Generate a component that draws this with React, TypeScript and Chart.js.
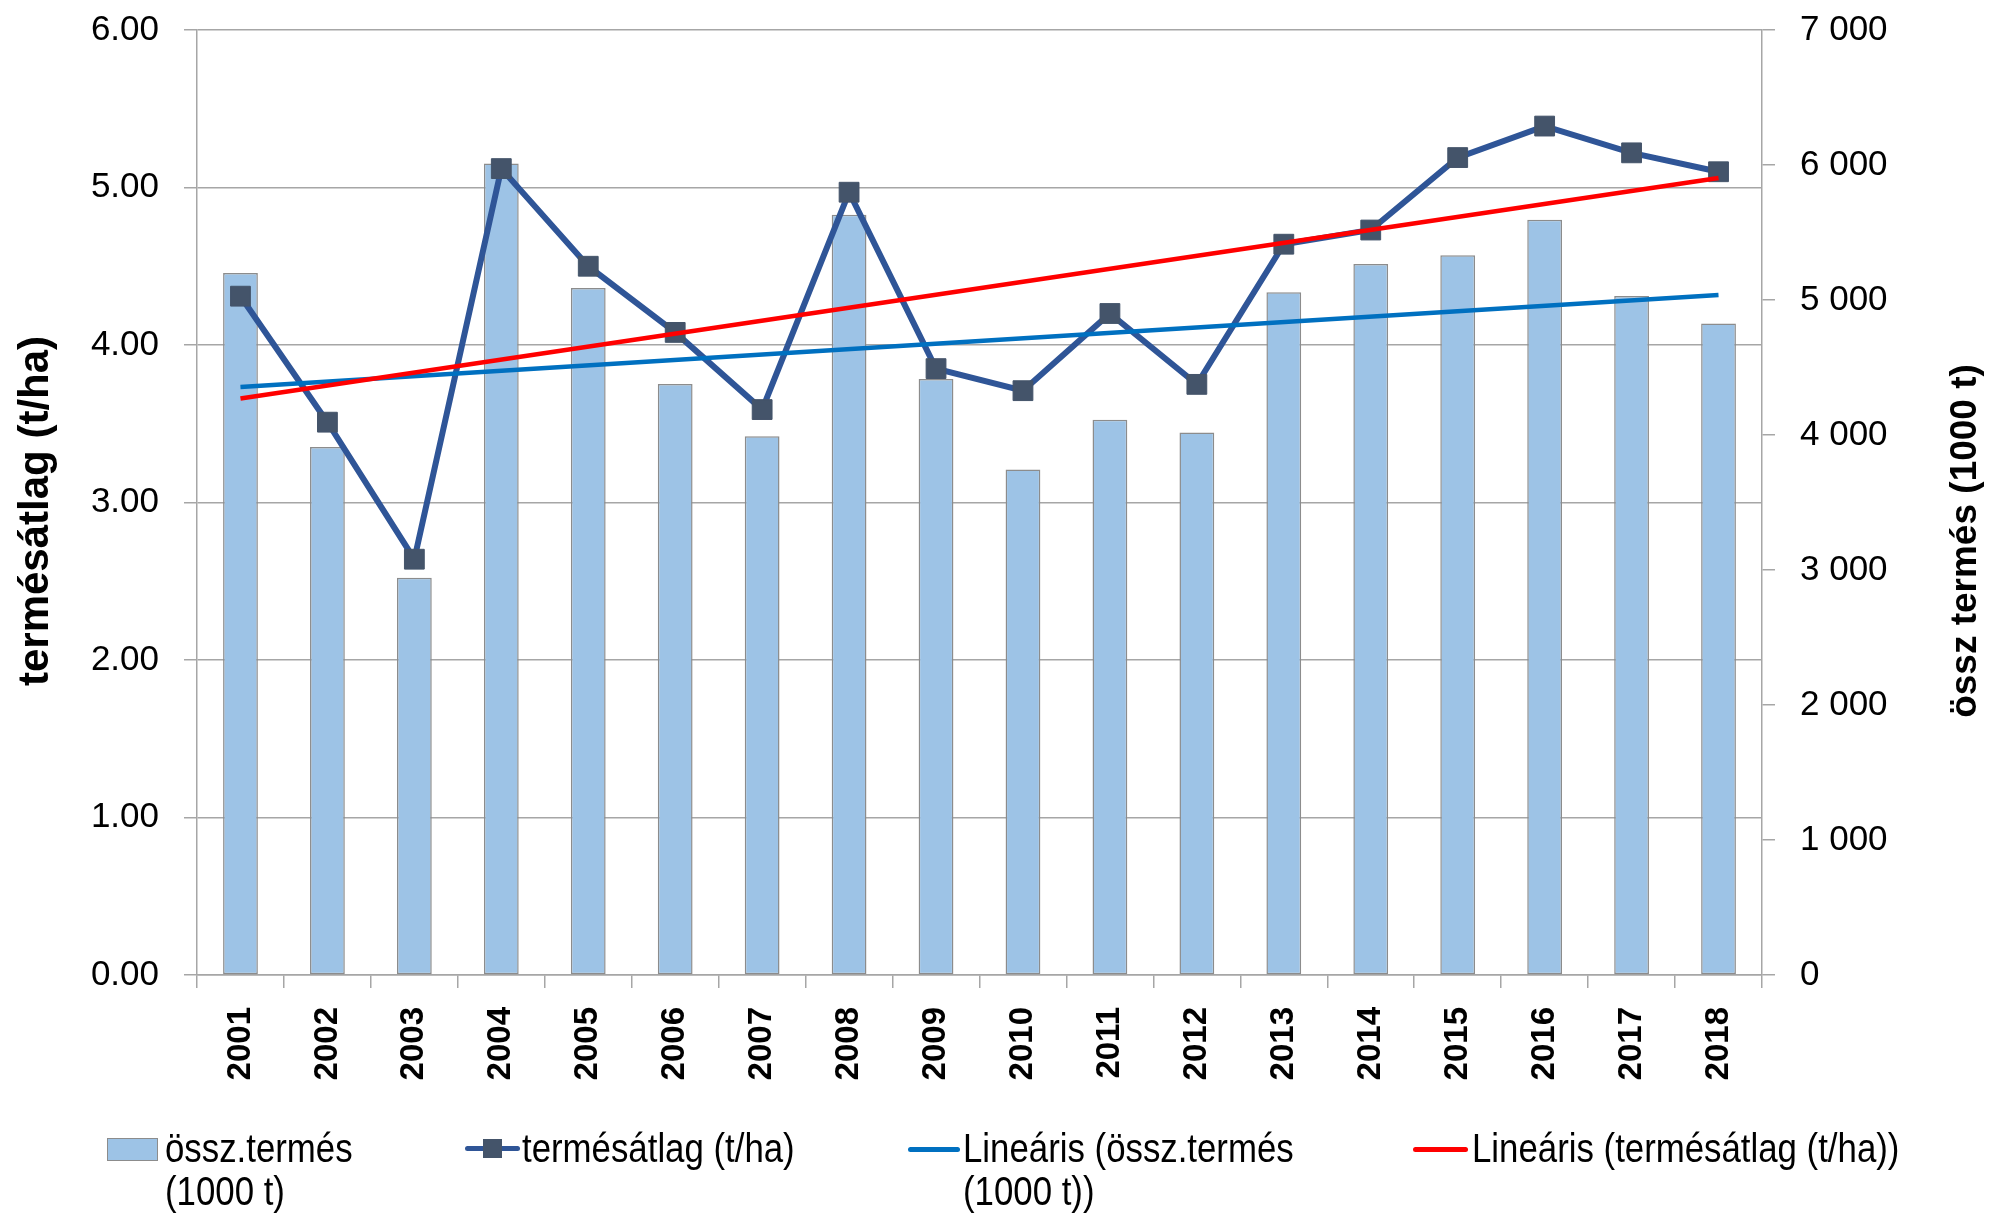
import React, { useEffect, useRef } from "react";
import { Chart, registerables } from "chart.js";

Chart.register(...registerables);

const years = ["2001","2002","2003","2004","2005","2006","2007","2008","2009","2010","2011","2012","2013","2014","2015","2016","2017","2018"];
const totalYield = [5200, 3912, 2943, 6012, 5088, 4378, 3990, 5632, 4415, 3745, 4113, 4019, 5057, 5266, 5332, 5594, 5030, 4826];
const avgYield = [4.31, 3.51, 2.64, 5.12, 4.50, 4.08, 3.59, 4.97, 3.85, 3.71, 4.20, 3.75, 4.64, 4.73, 5.19, 5.39, 5.22, 5.10];
const totalTrendEnds = [4355, 5037];
const avgTrendEnds = [3.66, 5.06];
const leftTicks = [0, 1, 2, 3, 4, 5, 6];
const rightTicks = [0, 1000, 2000, 3000, 4000, 5000, 6000, 7000];

const LABEL_BAR = ["össz.termés", "(1000 t)"];
const LABEL_LINE = ["termésátlag (t/ha)"];
const LABEL_TREND_TOTAL = ["Lineáris (össz.termés", "(1000 t))"];
const LABEL_TREND_AVG = ["Lineáris (termésátlag (t/ha))"];
const TITLE_LEFT = "termésátlag (t/ha)";
const TITLE_RIGHT = "össz termés (1000 t)";

const FONT = '"Liberation Sans", Arial, sans-serif';

const GRID = "#A6A6A6";
const BAR_FILL = "#9DC3E6";
const BAR_BORDER = "#8C8C8C";
const LINE_COLOR = "#2F5597";
const MARKER = "#44546A";
const TREND_BLUE = "#0070C0";
const TREND_RED = "#FF0000";

function trendSeries(ends: number[]) {
  const arr: (number | null)[] = years.map(() => null);
  arr[0] = ends[0];
  arr[years.length - 1] = ends[1];
  return arr;
}

function fmtThousands(v: number) {
  return String(Math.round(v)).replace(/\B(?=(\d{3})+(?!\d))/g, " ");
}

const titlePlugin = {
  id: "axisTitles",
  afterDraw(chart: any) {
    const ctx = chart.ctx;
    ctx.save();
    ctx.fillStyle = "#000";
    ctx.textAlign = "center";
    ctx.textBaseline = "middle";
    ctx.font = `bold 42px ${FONT}`;
    ctx.translate(36, 511);
    ctx.rotate(-Math.PI / 2);
    ctx.fillText(TITLE_LEFT, 0, 0);
    ctx.restore();
    ctx.save();
    ctx.fillStyle = "#000";
    ctx.textAlign = "center";
    ctx.textBaseline = "middle";
    ctx.font = `bold 37px ${FONT}`;
    ctx.translate(1966, 541);
    ctx.rotate(-Math.PI / 2);
    ctx.fillText(TITLE_RIGHT, 0, 0);
    ctx.restore();
  },
};

function LegendText({ lines, left }: { lines: string[]; left: number }) {
  return (
    <div
      style={{
        position: "absolute",
        left,
        top: 1127,
        font: `40px ${FONT}`,
        lineHeight: "43px",
        color: "#000",
        whiteSpace: "nowrap",
        transform: "scaleX(0.87)",
        transformOrigin: "0 0",
      }}
    >
      {lines.map((l, i) => (
        <div key={i}>{l}</div>
      ))}
    </div>
  );
}

function LineKey({ left, width, color, top }: { left: number; width: number; color: string; top: number }) {
  return (
    <div
      style={{
        position: "absolute",
        left,
        top,
        width,
        height: 5,
        borderRadius: 3,
        background: color,
      }}
    />
  );
}

function noLabelPadding(scale: any) {
  scale.paddingTop = 0;
  scale.paddingBottom = 0;
  scale.paddingLeft = 0;
  scale.paddingRight = 0;
}

export default function App() {
  const ref = useRef<HTMLCanvasElement | null>(null);

  useEffect(() => {
    if (!ref.current) return;
    const chart = new Chart(ref.current, {
      type: "bar",
      data: {
        labels: years,
        datasets: [
          {
            type: "line",
            label: LABEL_TREND_AVG.join(" "),
            data: trendSeries(avgTrendEnds),
            yAxisID: "y",
            borderColor: TREND_RED,
            borderWidth: 4.5,
            pointRadius: 0,
            spanGaps: true,
            order: 0,
          } as any,
          {
            type: "line",
            label: LABEL_TREND_TOTAL.join(" "),
            data: trendSeries(totalTrendEnds),
            yAxisID: "y2",
            borderColor: TREND_BLUE,
            borderWidth: 4.5,
            pointRadius: 0,
            spanGaps: true,
            order: 1,
          } as any,
          {
            type: "line",
            label: LABEL_LINE.join(" "),
            data: avgYield,
            yAxisID: "y",
            borderColor: LINE_COLOR,
            borderWidth: 6,
            pointStyle: "rect",
            pointRadius: 14,
            pointBackgroundColor: MARKER,
            pointBorderColor: MARKER,
            pointBorderWidth: 1,
            order: 2,
          } as any,
          {
            type: "bar",
            label: LABEL_BAR.join(" "),
            data: totalYield,
            yAxisID: "y2",
            backgroundColor: BAR_FILL,
            borderColor: BAR_BORDER,
            borderWidth: 1.5,
            borderSkipped: false,
            barPercentage: 0.4,
            categoryPercentage: 1,
            order: 3,
          } as any,
        ],
      },
      options: {
        responsive: false,
        animation: false,
        devicePixelRatio: 1,
        layout: { padding: { top: 30, left: 0, right: 0, bottom: 0 } },
        plugins: {
          legend: { display: false },
          tooltip: { enabled: false },
        },
        scales: {
          x: {
            type: "category",
            offset: true,
            grid: {
              offset: true,
              drawOnChartArea: false,
              drawTicks: true,
              tickLength: 13,
              color: GRID,
              lineWidth: 1.5,
            },
            border: { display: true, color: GRID, width: 1.5 },
            ticks: {
              autoSkip: false,
              minRotation: 90,
              maxRotation: 90,
              padding: 19,
              color: "#000",
              font: { family: FONT, size: 33, weight: "bold" },
            },
            afterFit(scale: any) {
              scale.height = 248;
              noLabelPadding(scale);
            },
          },
          y: {
            type: "linear",
            position: "left",
            min: leftTicks[0],
            max: leftTicks[leftTicks.length - 1],
            afterBuildTicks(scale: any) {
              scale.ticks = leftTicks.map((v) => ({ value: v }));
            },
            grid: {
              color: GRID,
              lineWidth: 1.5,
              drawTicks: true,
              tickLength: 13,
            },
            border: { display: true, color: GRID, width: 1.5 },
            ticks: {
              padding: 25,
              color: "#000",
              font: { family: FONT, size: 35 },
              callback: (v: any) => Number(v).toFixed(2),
            },
            afterFit(scale: any) {
              scale.width = 197;
              noLabelPadding(scale);
            },
          },
          y2: {
            type: "linear",
            position: "right",
            min: rightTicks[0],
            max: rightTicks[rightTicks.length - 1],
            afterBuildTicks(scale: any) {
              scale.ticks = rightTicks.map((v) => ({ value: v }));
            },
            grid: {
              drawOnChartArea: false,
              drawTicks: true,
              tickLength: 13,
              color: GRID,
              lineWidth: 1.5,
            },
            border: { display: true, color: GRID, width: 1.5 },
            ticks: {
              padding: 25,
              color: "#000",
              font: { family: FONT, size: 35 },
              callback: (v: any) => fmtThousands(Number(v)),
            },
            afterFit(scale: any) {
              scale.width = 240;
              noLabelPadding(scale);
            },
          },
        },
      } as any,
      plugins: [titlePlugin],
    });
    return () => chart.destroy();
  }, []);

  return (
    <div style={{ position: "fixed", left: 0, top: 0, width: 2002, height: 1223, background: "#fff" }}>
      <canvas ref={ref} width={2002} height={1223} style={{ width: 2002, height: 1223, display: "block" }} />
      <div
        style={{
          position: "absolute",
          left: 107,
          top: 1138,
          width: 49,
          height: 21,
          background: BAR_FILL,
          border: `1.5px solid ${BAR_BORDER}`,
        }}
      />
      <LegendText lines={LABEL_BAR} left={165} />
      <LineKey left={465} width={55} color={LINE_COLOR} top={1146} />
      <div
        style={{
          position: "absolute",
          left: 483,
          top: 1139,
          width: 19,
          height: 19,
          background: MARKER,
        }}
      />
      <LegendText lines={LABEL_LINE} left={522} />
      <LineKey left={908} width={52} color={TREND_BLUE} top={1147} />
      <LegendText lines={LABEL_TREND_TOTAL} left={963} />
      <LineKey left={1413} width={55} color={TREND_RED} top={1147} />
      <LegendText lines={LABEL_TREND_AVG} left={1472} />
    </div>
  );
}
